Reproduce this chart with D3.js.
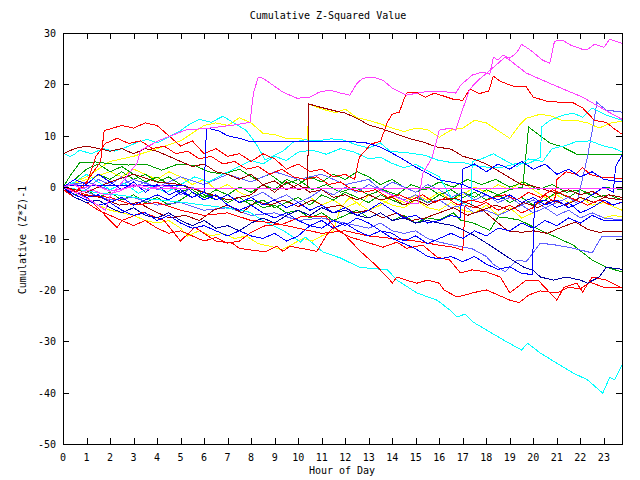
<!DOCTYPE html>
<html><head><meta charset="utf-8">
<script src="https://cdn.jsdelivr.net/npm/d3@7"></script>
<style>
body{margin:0;background:#fff;}
svg text{font-family:"DejaVu Sans Mono",monospace;font-size:10px;fill:#000;}
</style></head><body>
<svg id="c" width="640" height="480"></svg>
<script>
const title = "Cumulative Z-Squared Value";
const xLabel = "Hour of Day";
const yLabel = "Cumulative (Z*Z)-1";
const xTicks = d3.range(0, 24);
const yTicks = [30, 20, 10, 0, -10, -20, -30, -40, -50];
const xMax = 23.77;

// colours
const RED="#ff0000", DRED="#a00000", GRN="#00a000", BLU="#0000ff", DBLU="#0000a0", LBLU="#6060ff", CYN="#00ffff", MAG="#ff40ff", YEL="#ffff00";

// series: [hour, value]
const magTop = [[0,0],[0.5,-1],[1.15,-2.5],[1.8,-4.5],[2,-1.8],[2.6,1.4],[3.15,4.7],[3.3,7.2],[4.1,9.1],[5.2,11.1],[6.25,11.5],[7.3,12.1],[7.95,12.6],[8.1,18.3],[8.3,21.4],[8.5,21.2],[9.35,18.5],[9.95,17.3],[10.5,17.5],[10.9,18.5],[11.35,18.9],[11.8,18.3],[12.2,17.9],[12.5,20.2],[12.75,21.2],[13.2,21.4],[13.6,20.8],[14.0,19.3],[14.6,17.9],[15.3,18.5],[16.0,18.7],[16.7,18.3],[16.9,19.8],[17.4,21.8],[17.8,22.4],[18.15,22.0],[18.3,25.3],[18.5,24.7],[18.7,25.7],[19.0,25.1],[19.3,26.2],[19.5,27.8],[19.9,26.6],[20.4,24.7],[20.7,24.1],[20.9,28.4],[21.25,28.6],[21.6,27.6],[22.1,26.8],[22.3,26.8],[22.6,27.8],[23.0,27.2],[23.25,28.8],[23.77,28.0]];
const magB = [[0,0],[0.4,0.6],[0.8,-0.3],[1.3,0.5],[2,-0.8],[2.6,-0.3],[3.2,0.4],[4,-0.3],[5,-0.3],[13.35,-0.3],[14.2,-2.0],[14.75,-3.1],[15.1,-3.1],[15.3,2.7],[15.7,5.8],[16.0,11.1],[16.5,11.5],[16.7,11.1],[17.0,15.2],[17.3,19.1],[17.7,21.0],[18.1,22.5],[18.6,24.5],[18.8,25.3],[19.0,24.7],[19.7,22.2],[20.7,20.2],[22.1,17.5],[22.7,15.9],[23.25,14.5],[23.77,13.2]];
const magFlat = [[0,0],[0.6,-1.2],[1.2,-0.5],[1.8,-1.5],[2.4,-0.8],[3,0.5],[3.6,-0.5],[4.2,0.3],[5,-0.3],[23.77,-0.3]];
const cyanLow = [[0,0],[0.8,-0.6],[1.6,-1.2],[2.5,-1.6],[3.3,-2.2],[4.1,-2.5],[5,-2.9],[5.8,-3.4],[6.7,-3.9],[7.3,-4.3],[7.95,-4.9],[8.6,-6.8],[9.35,-8.4],[10.1,-10.7],[10.3,-9.7],[11.05,-12.6],[11.8,-13.8],[12.6,-15.6],[13.8,-16.1],[14.2,-18.1],[15.05,-20.6],[15.9,-22.0],[16.45,-23.9],[16.75,-25.3],[17.1,-24.7],[17.45,-26.3],[18.15,-28.2],[18.9,-30.2],[19.5,-31.7],[19.75,-30.4],[20.3,-32.3],[20.9,-34.0],[21.7,-36.2],[22.3,-37.5],[22.95,-40.1],[23.25,-37.0],[23.45,-37.5],[23.77,-34.6]];
const cyanA = [[0,6.6],[0.3,6.0],[0.5,6.4],[0.7,7.2],[1.2,6.5],[1.7,7.5],[2.2,7.0],[2.7,7.8],[3.2,8.8],[3.6,9.3],[4.0,8.6],[4.6,10.0],[5.0,11.0],[5.4,12.3],[5.8,13.2],[6.3,12.6],[6.8,13.8],[7.3,12.4],[7.8,11.0],[8.2,8.5],[8.6,5.3],[9.35,7.0],[9.8,8.8],[10.3,9.2],[10.8,9.0],[11.4,9.4],[11.9,9.2],[12.5,8.2],[13.0,7.6],[13.5,8.6],[13.9,7.0],[14.3,6.8],[14.8,6.6],[15.4,6.2],[15.9,5.3],[16.5,4.8],[17.0,4.8],[17.5,4.2],[18.0,3.9],[18.6,3.8],[19.2,4.5],[19.85,4.7],[20.3,5.8],[20.35,11.7],[20.7,13.0],[21.25,14.0],[21.7,14.4],[22.1,13.6],[22.5,15.4],[23.1,14.0],[23.77,13.0]];
const cyanB = [[0,0],[0.5,1],[1,2.5],[1.5,1],[2,-0.5],[2.6,0.8],[3.2,-1.2],[3.8,0.2],[4.4,-1],[5,0.5],[5.6,2],[6.2,1],[6.8,2.5],[7.4,3.8],[8.0,5.2],[8.5,4.5],[9,6],[9.5,5.2],[10,6.8],[10.6,7.2],[11.2,6.4],[11.8,7.5],[12.4,6.8],[13,5.5],[13.5,5.8],[14,4.6],[14.5,3.8],[15,4.4],[15.5,3.2],[16,2.0],[16.5,-2],[17,-3],[17.35,-4],[17.4,5],[17.8,5.5],[18.3,6.5],[18.8,5.2],[19.3,4.0],[19.8,5.5],[20.4,5.0],[20.8,7.5],[21.3,8.0],[21.8,8.8],[22.4,9.0],[23,8.0],[23.4,7.6],[23.77,6.9]];
const redTop = [[0,-0.5],[0.5,-1],[1,1],[1.6,5],[1.75,11],[2.5,12],[3,11.5],[3.5,12.5],[4,12],[4.5,10],[5,8],[5.5,9],[6,6.5],[6.5,7.5],[7,6],[7.5,6.5],[8,5],[8.5,6.5],[9,5.5],[9.5,3.5],[10,4.5],[10.5,3],[11,3.5],[11.5,2],[12,2.5],[12.4,1.5],[12.6,5.8],[13.1,8.4],[13.5,8.9],[13.8,12.7],[14,14.2],[14.3,14.6],[14.6,18.3],[15,18.5],[15.4,17.5],[15.8,18.3],[16.2,17.7],[16.6,17.1],[17,16.9],[17.3,19.1],[17.7,18.2],[18.1,18.7],[18.3,21.6],[18.6,20.6],[19.1,19.7],[19.7,19.5],[20,17.5],[20.6,16.7],[21.2,16.5],[21.7,16.4],[22.1,15.4],[22.6,13.0],[23.1,12.6],[23.4,11.5],[23.77,10.3]];
const redLowA = [[0,0],[1,-2],[1.3,-3.2],[2.3,-7.9],[2.5,-6.5],[3.4,-4.9],[4.3,-6.5],[5.0,-10.5],[5.6,-7.8],[6.5,-10.5],[7.2,-10.9],[7.5,-11.9],[8.1,-12.3],[8.6,-12.6],[9.1,-11.5],[9.35,-12.5],[9.65,-11.5],[10.8,-12.5],[11.2,-9.4],[11.5,-7.8],[11.9,-8.9],[12.6,-12.3],[13.3,-15.2],[13.9,-18.1],[14.0,-18.7],[14.2,-17.5],[14.6,-18.1],[15.05,-18.7],[15.5,-18.1],[16.0,-18.7],[16.2,-20.0],[16.75,-21.4],[17.5,-20.5],[18,-20],[18.5,-21],[19,-22],[19.4,-22.5],[19.8,-21],[20.3,-20.2],[21,-20.6],[21.5,-19.5],[22,-19.8],[22.4,-18.5],[23,-19.5],[23.77,-19.5]];
const redLowB = [[0,-0.5],[0.5,-2],[1,-3],[1.5,-4.5],[2,-5.5],[2.5,-6.5],[3,-7.5],[3.5,-6.5],[4,-8],[4.5,-9],[5,-8.5],[5.5,-9.5],[6,-10.5],[6.5,-9.8],[7,-10.9],[7.5,-10.5],[8,-8.8],[8.6,-7.5],[9.35,-7.2],[10.1,-5.8],[11.2,-5.8],[11.65,-8.4],[12.2,-9.7],[12.9,-10.7],[13.6,-11.7],[14.2,-10.7],[14.6,-11.9],[15.3,-11.3],[15.9,-13.6],[16.45,-14.2],[16.9,-16.7],[17.4,-16.1],[18.0,-16.5],[18.6,-17.5],[19.0,-20.6],[19.7,-18.1],[20.2,-18.1],[21.0,-22.0],[21.3,-19.5],[21.85,-18.7],[22.1,-20.4],[22.5,-17.5],[23.1,-18.1],[23.77,-19.6]];
const redJump = [[0,0],[1,-1.5],[2,-2],[3,-3.5],[4,-3],[5,-4.5],[6,-5.5],[7,-5],[8,-6.5],[9,-7],[10,-8],[11,-9],[12,-8.5],[13,-9.5],[14,-10],[15,-10.5],[16,-11.3],[16.6,-11.7],[17,-12.3],[17.1,-3.5],[17.5,-4],[18,-3],[18.5,-4.5],[19,-3.5],[19.5,-5],[20,-4],[20.5,-1.5],[20.9,-3],[21,1.5],[21.4,3],[21.8,2.5],[22.1,3.8],[22.4,2.5],[22.8,2],[23.3,1.8],[23.77,1.7]];
const redB = [[0,0],[0.5,-1],[1,0.5],[1.4,6],[1.8,8.5],[2.3,9.5],[2.8,8.5],[3.3,9],[3.8,7.5],[4.3,8],[4.8,6.5],[5.3,7],[5.8,5.5],[6.3,6],[6.8,4.5],[7.3,5],[7.8,3.5],[8.3,4],[8.8,2.5],[9.3,3.5],[9.8,2],[10.3,1.5],[10.8,2],[11.3,0.5],[11.8,1],[12.3,-0.5],[12.8,-1],[13.3,-0.5],[13.8,-2],[14.3,-1.5],[14.8,-2.5],[15.3,-1.5],[15.8,-3],[16.3,-2],[16.8,-3.5],[17.3,-2.5],[17.8,-3],[18.3,-2],[18.8,-1.5],[19.3,-2.5],[19.8,-1],[20.3,-2],[20.8,-0.5],[21.3,-1.5],[21.8,-2.5],[22.3,-3.5],[22.8,-2.5],[23.3,-3.5],[23.77,-3]];
const dredA = [[0,0],[1,-1],[2,1],[3,2.5],[4,1],[5,0.5],[6,-1],[7,-2.5],[8,-1.5],[8.5,0.5],[9,-1],[9.5,1],[10,-0.5],[10.4,0],[10.45,16.2],[10.9,15.6],[11.6,14.8],[12,14.4],[12.5,13.4],[13,12.1],[13.6,11.3],[14.2,10.3],[14.7,9.5],[15.3,8.8],[15.9,7.8],[16.5,7.4],[17,6.0],[17.5,5.4],[18,4.5],[18.5,3.2],[19,1.8],[19.5,0.5],[20,0.2],[20.5,-0.5],[21,-1.2],[21.5,-0.5],[22,-1.5],[22.5,-0.8],[23,-2.0],[23.77,-2.5]];
const dredB = [[0,6.5],[0.5,7.5],[1,8],[1.5,7.5],[2,7],[2.5,7.5],[3,6.5],[3.5,7.5],[4,7],[4.5,6],[5,5],[5.5,4],[6,4.5],[6.5,3],[7,2.5],[7.5,1.5],[8,2.5],[8.5,0.5],[9,1.2],[9.5,-0.5],[10,0.5],[10.5,-1],[11,-0.5],[11.5,-2],[12,-1.5],[12.5,-2.5],[13,-1.5],[13.5,-2.5],[14,-2],[14.5,-3.5],[15,-2.5],[15.5,-3.5],[16,-2.5],[16.7,-2.2],[17.3,-3.3],[17.8,-4.3],[18.3,-6.2],[18.9,-8.5],[19.5,-8.8],[20,-8.5],[20.6,-9.0],[21.2,-7.8],[21.8,-6.8],[22.3,-8.2],[22.8,-8.8],[23.2,-8.6],[23.77,-8.7]];
const dredC = [[0,0],[0.8,-1.5],[1.6,-2],[2.4,-3.5],[3.2,-3],[3.8,-4.5],[4.5,-6],[5.2,-5.5],[5.8,-6.5],[6.4,-4.5],[7,-3.5],[7.6,-5],[8.2,-2.8],[8.8,-3.5],[9.4,-2.5],[10,-3.8],[10.6,-2.5],[11.2,-4],[11.8,-3.5],[12.4,-5],[13,-4.5],[13.6,-6],[14.2,-5],[14.8,-6.5],[15.4,-6],[16,-5],[16.6,-4],[17.2,-5.5],[17.8,-4.5],[18.4,-3.5],[19,-4.5],[19.6,-3],[20.2,-4],[20.8,-2.5],[21.4,-3.5],[22,-2],[22.6,-3],[23.2,-1.5],[23.77,-2]];
const grnA = [[0,0],[0.5,1.5],[1,3.5],[1.5,4.5],[2,3],[2.5,4],[3,2.5],[3.5,1],[4,2],[4.5,0.5],[5,-1],[5.5,0],[6,-1.5],[6.5,-2.5],[7,-1.5],[7.5,-3],[8,-2.5],[8.5,-4],[9,-3.5],[9.5,-5],[10,-4.5],[10.5,-6],[11,-5],[11.5,-6.5],[12,-5.5],[12.5,-4.5],[13,-6],[13.5,-5],[14,-6.5],[14.5,-5.5],[15,-7],[15.5,-6],[16,-6.4],[16.6,-5],[16.9,-6.4],[17.45,-7],[18.15,-8.4],[18.5,-5.8],[18.9,-6.0],[19.4,-6.4],[20.3,-8.4],[21.0,-9.8],[21.7,-11.3],[22.5,-14.2],[23.1,-15.6],[23.77,-16.5]];
const grnB = [[0,0],[0.5,-1],[1,0.5],[1.5,2.5],[2,1.5],[2.5,3],[3,1.5],[3.5,2.5],[4,1],[4.5,2],[5,0.5],[5.5,-0.5],[6,-2],[6.5,-1.5],[7,-3],[7.5,-2],[8,-3.5],[8.5,-2.5],[9,-4],[9.5,-3],[10,-2],[10.5,-3.5],[11,-1.5],[11.5,-2.5],[12,-1],[12.5,-2],[13,-3],[13.5,-1.5],[14,-2.5],[14.5,-3.5],[15,-2],[15.5,-3],[16,-1.5],[16.5,-2.5],[17,-1],[17.5,-2],[18,-0.5],[18.5,-1.5],[19,-0.5],[19.55,0],[19.8,11.7],[20.15,10.5],[20.7,8.6],[21.25,7.8],[21.85,6.4],[23.77,6.4]];
const grnC = [[0,0],[0.35,2.5],[0.7,4.7],[1.4,4.9],[2.1,4.5],[2.8,4.3],[3.5,4.5],[4.2,3.3],[4.9,4.5],[5.6,4.2],[6.2,3.0],[6.8,2.5],[7.5,3.5],[8.2,1.5],[8.8,2.5],[9.4,0.5],[10,1.5],[10.6,-0.5],[11.2,0.5],[11.8,-1],[12.4,0],[13,-1.5],[13.6,-0.5],[14.2,-1.5],[14.8,0.5],[15.4,-0.5],[16,1],[16.6,0],[17.2,1.5],[17.8,0.5],[18.4,1.5],[19,0],[19.6,1],[20.2,-0.5],[20.8,0.5],[21.4,-1],[22,-0.5],[22.6,-2],[23.2,-1.5],[23.77,-2.5]];
const grnD = [[0,0],[0.5,-1.5],[1,-0.5],[1.5,-2],[2,-1],[2.5,-2.5],[3,-1.5],[3.5,-3],[4,-2],[4.5,-3.5],[5,-2.5],[5.5,-1],[6,-2],[6.5,-0.5],[7,-1.5],[7.5,0],[8,-1],[8.5,0.5],[9,-0.5],[9.5,1.5],[10,0.5],[10.5,2],[11,1],[11.5,2.5],[12,1.5],[12.5,3],[13,2],[13.5,0.5],[14,1.5],[14.5,0],[15,-1],[15.5,0],[16,-1.5],[16.5,-0.5],[17,-2],[17.5,-1],[18,-2.5],[18.5,-1.5],[19,-3],[19.5,-2],[20,-3.5],[20.5,-2.5],[21,-1],[21.5,-2],[22,-0.5],[22.5,-1.5],[23,0],[23.77,-0.5]];
const bluA = [[0,0.3],[5.2,0.3],[5.5,-1],[6,-2.5],[6.5,-1.5],[7,-3.5],[7.5,-4.5],[8,-3.5],[8.5,-5],[9,-6],[9.5,-5],[10,-6.5],[10.5,-7.5],[11,-6.5],[11.5,-8],[12,-7],[12.5,-8.5],[13,-9.5],[13.5,-8.5],[14,-9],[14.5,-10.5],[15,-9.5],[15.5,-11],[16,-10],[16.5,-9],[17,-10],[17.5,-8.5],[18,-9.5],[18.5,-8],[19,-8.5],[19.5,-7],[20,-8],[20.5,-6.5],[21,-7.5],[21.5,-6],[22,-7],[22.5,-5.5],[23,-6.5],[23.77,-6.4]];
const bluB = [[0,0],[0.5,-1],[1,-2],[1.5,-1.5],[2,-3],[2.5,-2],[3,-3.5],[3.5,-2.5],[4,-1.5],[4.5,-2.5],[5,-1],[5.5,-2],[6,-1],[6.1,11.5],[6.6,11.0],[7.0,10.0],[7.5,9.5],[8.0,8.8],[12.4,8.8],[12.9,8.6],[13.5,7.8],[14.0,6.6],[14.5,5.3],[15.0,3.9],[15.5,2.7],[16.0,1.4],[16.5,1.0],[17,0.5],[17.5,-0.5],[18,-1.5],[18.5,-2.5],[19,-1.5],[19.5,-3],[20,-2],[20.5,-3.5],[21,-2.5],[21.5,-4],[22,-3],[22.5,-1.5],[23,0],[23.4,-1],[23.5,4],[23.77,6.2]];
const bluC = [[0,0],[0.5,1.5],[1,0.5],[1.5,2.5],[2,1],[2.5,-0.5],[3,1],[3.5,-1],[4,0.5],[4.5,-1.5],[5,-0.5],[5.5,-2],[6,-1],[6.5,-2.5],[7,-1.5],[7.5,-3],[8,-2],[8.5,-3.5],[9,-2.5],[9.5,-4],[10,-3],[10.5,-4.5],[11,-3.5],[11.5,-5],[12,-4],[12.5,-5.5],[13,-4.5],[13.5,-3],[14,-4.5],[14.5,-6],[15,-5.5],[15.5,-7],[16,-6.5],[16.5,-5.5],[16.9,-6],[17.0,3.5],[17.5,4.5],[18,3],[18.5,4.5],[19,3.5],[19.5,5],[20,3.5],[20.5,4.5],[21,2.5],[21.5,3.5],[22,2],[22.5,3],[23,1.5],[23.77,1.0]];
const bluD = [[0,0],[0.5,-1.5],[1,-2.5],[1.5,-3.5],[2,-3],[2.5,-4.5],[3,-5.5],[3.5,-5],[4,-6.5],[4.5,-5.5],[5,-7],[5.5,-8],[6,-7.5],[6.5,-8.5],[7,-9.5],[7.5,-8.5],[8,-9.5],[8.5,-10],[9,-9],[9.5,-10.5],[10,-9.5],[10.5,-7.5],[11,-8],[11.5,-6.5],[12,-7.5],[12.5,-6],[13,-7],[13.5,-8.5],[14,-10],[14.5,-11],[15,-12],[15.5,-13.5],[16,-14],[16.5,-13.5],[17,-14.5],[17.5,-13.5],[18,-15],[18.5,-16],[19,-15.5],[19.5,-16.8],[19.95,-17],[20.05,-3],[20.5,-2.5],[21,-4],[21.5,-3],[22,-5],[22.5,-4],[23,-2.5],[23.4,-3.5],[23.77,-2.9]];
const dbluA = [[0,0],[0.5,-2],[1,-3],[1.5,-2.5],[2,-4],[2.5,-5],[3,-4],[3.5,-5.5],[4,-6],[4.5,-5],[5,-6.5],[5.5,-7.5],[6,-6.5],[6.5,-8],[7,-7.5],[7.5,-8.5],[8,-7],[8.5,-6],[9,-7],[9.5,-5.5],[10,-4.5],[10.5,-5.5],[11,-4],[11.5,-5],[12,-4.5],[12.5,-5.5],[13,-6],[13.5,-5],[14,-6.5],[14.5,-6],[15,-7],[15.5,-6.5],[16,-7],[16.6,-7.5],[17.45,-9.3],[18.15,-11.3],[18.9,-13.6],[19.6,-15.6],[20,-16.2],[20.3,-17.5],[20.85,-18.1],[21.4,-17.5],[22,-18.1],[22.3,-18.7],[22.8,-17.5],[23.1,-15.6],[23.77,-16.0]];
const lbluA = [[0,0],[0.5,0.8],[1,-0.5],[1.5,1.5],[2,0.5],[2.5,2],[3,0],[3.5,1],[4,-0.5],[4.5,0.5],[5,-1.5],[5.5,0],[6,-1],[6.5,-2.5],[7,-1.5],[7.5,-3],[8,-2],[8.5,-1],[9,-2.5],[9.5,-1.5],[10,-3],[10.5,-2],[11,-0.5],[11.5,-1.5],[12,0],[12.5,-1],[13,0.5],[13.5,-0.5],[14,1],[14.5,0],[15,-1],[15.5,0.5],[16,-0.5],[16.5,-2],[17,-1],[17.5,-2.5],[18,-1.5],[18.5,-3],[19,-2],[19.5,-3.5],[20,-2.5],[20.5,-4],[21,-3],[21.5,-2],[21.85,-3.1],[22.3,5.8],[22.6,13.5],[22.7,16.5],[23.1,15.0],[23.77,14.6]];
const lbluB = [[0,0],[1,-1],[2,-2.5],[3,-2],[4,-3.5],[5,-3],[6,-4.5],[7,-4],[8,-5.5],[9,-5],[10,-6.5],[11,-6],[12,-7],[13,-8],[13.5,-7],[14,-8.5],[14.5,-9],[15,-8.5],[15.5,-10],[16,-10.7],[16.6,-11.3],[17.4,-12],[18,-13.5],[18.3,-15],[18.8,-16.5],[19.3,-14.2],[19.7,-14.5],[20.3,-10.9],[21,-11.3],[21.7,-11.9],[22.5,-12.8],[22.9,-9.7],[23.77,-9.7]];
const lbluC = [[0,0],[1,1],[2,-0.5],[3,1.5],[4,0],[5,2],[6,0.5],[7,2.5],[8,1],[9,3],[10,1.5],[11,2.5],[12,0.5],[13,1.5],[13.5,-0.5],[14,-1.5],[14.5,-2.5],[15,-1.5],[15.5,-3],[16,-2.5],[16.5,-4],[17,-3.5],[17.5,-5],[18,-4.5],[18.5,-5.5],[19,-4.5],[19.5,-3.5],[20,-5],[20.5,-4],[21,-5.5],[21.5,-4.5],[22,-6],[22.5,-5],[23,-6],[23.77,-6.4]];
const yelA = [[0,0],[1,2],[2,5],[3,6],[4,7.5],[5,9],[5.5,10.5],[6,12],[6.5,12.5],[7,12],[7.5,13.5],[8,12.5],[8.5,10.5],[9,10.2],[9.5,9.5],[10,9.5],[10.4,9.2],[10.45,16.2],[11,15.2],[11.6,14.5],[12,15.2],[12.5,13.5],[13,13.0],[13.5,12.3],[14,11.5],[14.5,10.8],[15,11.5],[15.5,11.2],[16,9.7],[16.5,11.1],[17,11.5],[17.5,13],[18,12.5],[18.5,11],[19,9.5],[19.4,12],[19.7,13.4],[20.3,14.2],[20.8,13.8],[21.2,13],[21.8,13],[22.3,12.5],[22.8,11.5],[23.3,12.5],[23.77,12.8]];
const yelB = [[0,0],[0.5,-1.5],[1,-2.5],[1.5,-3.5],[2,-4.5],[2.5,-5],[3,-5.5],[3.5,-6.5],[4,-7],[4.5,-6.5],[5,-8],[5.3,-9.5],[5.8,-8.5],[6.3,-9.5],[6.8,-9],[7.3,-10],[7.8,-9.5],[8.3,-11],[8.8,-11.5],[9.3,-12.2],[9.8,-11],[10.2,-10],[10.6,-10.5],[11,-9.5],[11.5,-8.5],[11.8,-4],[12.2,-2],[12.6,-3.5],[13,-1.5],[13.5,-2.5],[14,-3.5],[14.5,-4],[15,-2.5],[15.5,-4],[16,-4.5],[16.5,-3],[17,-4.5],[17.5,-5],[18,-3.5],[18.5,-5.5],[19,-4],[19.5,-6],[20,-5],[20.5,-4],[21,-5.5],[21.5,-4.5],[22,-6],[22.5,-5],[23,-6],[23.4,-5.5],[23.77,-5.8]];
const yelC = [[0,0],[1,1.5],[2,3],[2.5,2],[3,3.5],[3.5,2.5],[4,1.5],[4.5,3],[5,2],[5.5,0.5],[6,1.5],[6.5,-0.5],[7,0.5],[7.5,-1],[8,-2],[8.5,-1],[9,-2.5],[9.5,-1.5],[10,-3],[10.5,-2],[11,-3.5],[11.5,-2.5],[12,-4],[12.5,-3],[13,-4.5],[13.5,-3.5],[14,-2],[14.5,-3],[15,-1.5],[15.5,-2.5],[16,-1],[16.5,-2.5],[17,-1.5],[17.5,0],[18,-1],[18.5,0.5],[19,-0.5],[19.5,1],[20,-0.5],[20.5,-2],[21,-1.5],[21.5,-3],[22,-2],[22.5,-3.5],[23,-3],[23.77,-4.5]];

const seriesList = [
  {c:YEL,d:yelA},{c:YEL,d:yelB},{c:YEL,d:yelC},
  {c:GRN,d:grnA},{c:GRN,d:grnB},{c:GRN,d:grnC},{c:GRN,d:grnD},
  {c:LBLU,d:lbluA},{c:LBLU,d:lbluB},{c:LBLU,d:lbluC},
  {c:CYN,d:cyanLow},{c:CYN,d:cyanA},{c:CYN,d:cyanB},
  {c:DRED,d:dredA},{c:DRED,d:dredB},{c:DRED,d:dredC},
  {c:RED,d:redTop},{c:RED,d:redLowA},{c:RED,d:redLowB},{c:RED,d:redJump},{c:RED,d:redB},
  {c:DBLU,d:dbluA},{c:BLU,d:bluA},{c:BLU,d:bluB},{c:BLU,d:bluC},{c:BLU,d:bluD},
  {c:MAG,d:magFlat},{c:MAG,d:magB},{c:MAG,d:magTop}
];

const L=63, R=622, T=33, B=444;
const x = d3.scaleLinear().domain([0, xMax]).range([L, R]);
const y = d3.scaleLinear().domain([-50, 30]).range([B, T]);
const svg = d3.select("#c");

const line = d3.line().x(d=>x(d[0])).y(d=>y(d[1]));
svg.append("g").selectAll("path").data(seriesList).join("path")
  .attr("d", s=>line(s.d)).attr("fill","none").attr("stroke", s=>s.c)
  .attr("stroke-width",1).attr("shape-rendering","crispEdges");

// frame
svg.append("rect").attr("x",L+0.5).attr("y",T+0.5).attr("width",R-L).attr("height",B-T)
  .attr("fill","none").attr("stroke","#000").attr("stroke-width",1).attr("shape-rendering","crispEdges");

const tl = 6;
const ax = svg.append("g").attr("stroke","#000").attr("shape-rendering","crispEdges");
xTicks.forEach(h=>{
  const px = Math.round(x(h))+0.5;
  ax.append("line").attr("x1",px).attr("x2",px).attr("y1",B).attr("y2",B-tl);
  ax.append("line").attr("x1",px).attr("x2",px).attr("y1",T).attr("y2",T+tl);
});
yTicks.forEach(v=>{
  const py = Math.round(y(v))+0.5;
  ax.append("line").attr("x1",L).attr("x2",L+tl).attr("y1",py).attr("y2",py);
  ax.append("line").attr("x1",R).attr("x2",R-tl).attr("y1",py).attr("y2",py);
});

svg.append("g").selectAll("text").data(xTicks).join("text")
  .attr("x",h=>x(h)).attr("y",461).attr("text-anchor","middle").text(h=>h);
svg.append("g").selectAll("text").data(yTicks).join("text")
  .attr("x",56).attr("y",v=>y(v)+4).attr("text-anchor","end").text(v=>v);

svg.append("text").attr("x",328).attr("y",19).attr("text-anchor","middle").text(title);
svg.append("text").attr("x",342).attr("y",474).attr("text-anchor","middle").text(xLabel);
svg.append("text").attr("transform","translate(26,240) rotate(-90)").attr("text-anchor","middle").text(yLabel);
</script>
</body></html>
